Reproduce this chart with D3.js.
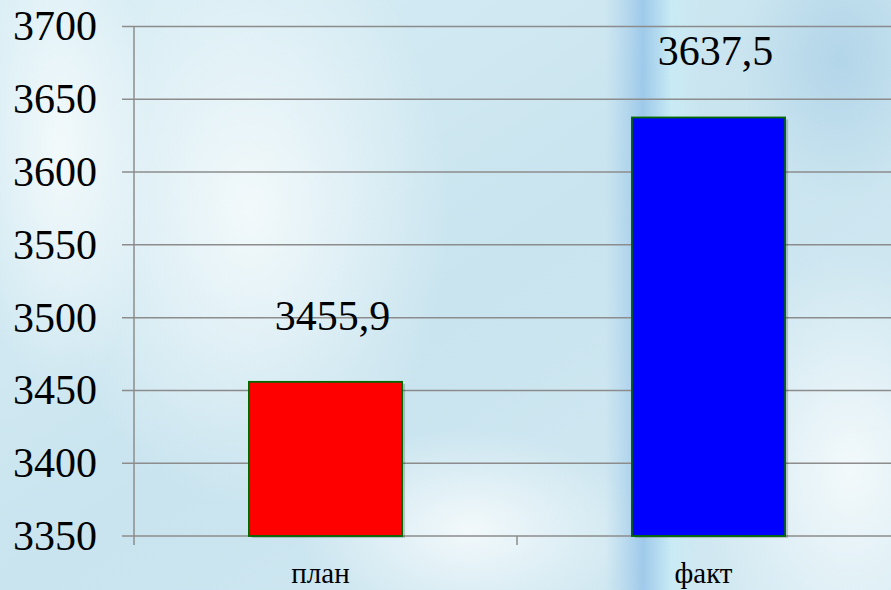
<!DOCTYPE html>
<html><head><meta charset="utf-8">
<script src="https://cdn.jsdelivr.net/npm/d3@7"></script>
</head><body style="margin:0;background:#cfe7f1">
<script>
const categories = ["план", "факт"];
const values = [3455.9, 3637.5];
const valueLabels = ["3455,9", "3637,5"];
const barColors = ["#ff0000", "#0000ff"];
const yTicks = [3350, 3400, 3450, 3500, 3550, 3600, 3650, 3700];

const FONT = '"Liberation Serif", Tinos, "Times New Roman", FreeSerif';
const W = 891, H = 590;
const svg = d3.select("body").append("svg").attr("width", W).attr("height", H).style("display","block").style("font-family", FONT, "important");
const defs = svg.append("defs");

// background
const bg = defs.append("linearGradient").attr("id","bg").attr("x1",0).attr("y1",0).attr("x2",1).attr("y2",1);
bg.append("stop").attr("offset","0%").attr("stop-color","#d9eef5");
bg.append("stop").attr("offset","50%").attr("stop-color","#c9e4ef");
bg.append("stop").attr("offset","100%").attr("stop-color","#d3e9f2");
svg.append("rect").attr("width",W).attr("height",H).attr("fill","url(#bg)");
function radial(id, color, op) {
  const g = defs.append("radialGradient").attr("id", id);
  g.append("stop").attr("offset","0%").attr("stop-color",color).attr("stop-opacity",op);
  g.append("stop").attr("offset","100%").attr("stop-color",color).attr("stop-opacity",0);
}
radial("w1","#f6fbfc",0.9);
radial("b1","#a9cfe6",0.7);
const bgG = svg.append("g");
bgG.append("ellipse").attr("cx",250).attr("cy",210).attr("rx",200).attr("ry",300).attr("fill","url(#w1)");
bgG.append("ellipse").attr("cx",60).attr("cy",150).attr("rx",90).attr("ry",250).attr("fill","url(#w1)");
bgG.append("ellipse").attr("cx",470).attr("cy",530).attr("rx",170).attr("ry",100).attr("fill","url(#w1)");
bgG.append("ellipse").attr("cx",850).attr("cy",470).attr("rx",150).attr("ry",220).attr("fill","url(#w1)");
bgG.append("ellipse").attr("cx",840).attr("cy",60).attr("rx",100).attr("ry",140).attr("fill","url(#b1)");
const strip = defs.append("linearGradient").attr("id","strip").attr("x1",0).attr("y1",0).attr("x2",1).attr("y2",0);
strip.append("stop").attr("offset","0%").attr("stop-color","#9cc8ea").attr("stop-opacity",0);
strip.append("stop").attr("offset","40%").attr("stop-color","#8fc0e8").attr("stop-opacity",0.75);
strip.append("stop").attr("offset","70%").attr("stop-color","#c8ecf6").attr("stop-opacity",0.8);
strip.append("stop").attr("offset","100%").attr("stop-color","#c8ecf6").attr("stop-opacity",0);
bgG.append("rect").attr("x",605).attr("y",0).attr("width",95).attr("height",H).attr("fill","url(#strip)");

// scales
const x = d3.scaleBand().domain(categories).range([134, 900]).paddingInner(0).paddingOuter(0);
const y = d3.scaleLinear().domain([3350, 3700]).range([536, 26.5]);
const barW = x.bandwidth() * 0.4;

// grid
svg.append("g").selectAll("line").data(yTicks).join("line")
  .attr("x1",122).attr("x2",W).attr("y1",d=>y(d)).attr("y2",d=>y(d))
  .attr("stroke","#8c8c8c").attr("stroke-width",1.5);
// y axis line
svg.append("line").attr("x1",134).attr("x2",134).attr("y1",y(3700)).attr("y2",545).attr("stroke","#8c8c8c").attr("stroke-width",1.5);
// category tick marks
const catTicks = [x(categories[1])];
svg.append("g").selectAll("line").data(catTicks).join("line")
  .attr("x1",d=>d).attr("x2",d=>d).attr("y1",536).attr("y2",545).attr("stroke","#8c8c8c").attr("stroke-width",1.5);

// y tick labels
svg.selectAll("text.ytick").data(yTicks).join("text").attr("class","ytick")
  .style("font-family",FONT,"important")
  .attr("x",97).attr("y",d=>y(d)).attr("dy","0.33em")
  .attr("text-anchor","end")
  .attr("font-size",42).attr("fill","#000").text(d=>d);

// bar shadows (offset copies)
const data = categories.map((c,i)=>({c, v: values[i], label: valueLabels[i], color: barColors[i]}));
svg.append("g").selectAll("rect").data(data).join("rect")
  .attr("x",d=>x(d.c)+x.bandwidth()/2-barW/2+3)
  .attr("y",d=>y(d.v)+2)
  .attr("width",barW)
  .attr("height",d=>y(3350)-y(d.v))
  .attr("fill","#000").attr("opacity",0.18);
svg.append("g").selectAll("rect").data(data).join("rect")
  .attr("x",d=>x(d.c)+x.bandwidth()/2-barW/2)
  .attr("y",d=>y(d.v))
  .attr("width",barW)
  .attr("height",d=>y(3350)-y(d.v))
  .attr("fill",d=>d.color)
  .attr("stroke","#006a00").attr("stroke-width",1.8);

// value labels
svg.selectAll("text.vlabel").data(data).join("text").attr("class","vlabel")
  .style("font-family",FONT,"important")
  .attr("x",d=>x(d.c)+x.bandwidth()/2+7)
  .attr("y",d=>y(d.v)-52)
  .attr("text-anchor","middle")
  .attr("font-size",42).attr("fill","#000").text(d=>d.label);

// category labels
svg.selectAll("text.clabel").data(categories).join("text").attr("class","clabel")
  .style("font-family",FONT,"important")
  .attr("x",d=>x(d)+x.bandwidth()/2-5)
  .attr("y",583)
  .attr("text-anchor","middle")
  .attr("font-size",29).attr("fill","#000").text(d=>d);
</script>
</body></html>
